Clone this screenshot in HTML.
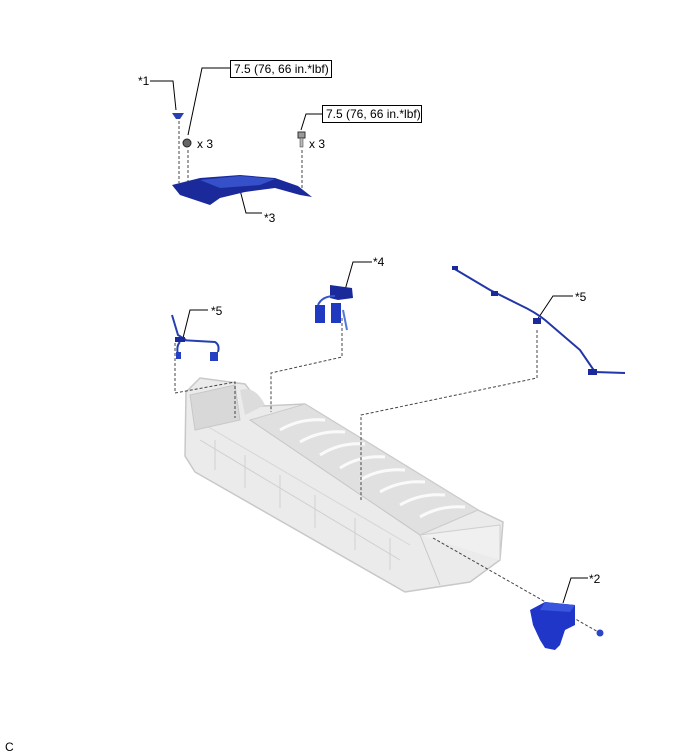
<!DOCTYPE html>
<html><head><meta charset="utf-8"><style>
html,body{margin:0;padding:0;background:#fff;width:688px;height:755px;overflow:hidden}
svg{display:block}
text{font-family:"Liberation Sans",sans-serif;font-size:12px;fill:#000}
</style></head><body>
<svg width="688" height="755" viewBox="0 0 688 755" xmlns="http://www.w3.org/2000/svg">
<!-- battery -->
<g>
<path d="M186,392 L200,378 L245,384 L262,406 L305,404 L478,510 L503,522 L500,560 L470,582 L405,592 L195,472 L185,456 Z" fill="#ebebeb" stroke="#c8c8c8" stroke-width="1.5"/>
<path d="M250,420 L305,404 L478,510 L420,535 Z" fill="#e0e0e0" stroke="#cbcbcb"/>
<g stroke="#fafafa" stroke-width="3" fill="none">
<path d="M280,430 Q300,418 325,420"/><path d="M300,442 Q320,430 345,432"/><path d="M320,455 Q340,442 365,444"/>
<path d="M340,468 Q360,455 385,457"/><path d="M360,480 Q380,468 405,470"/><path d="M380,492 Q400,480 425,482"/>
<path d="M400,505 Q420,493 445,495"/><path d="M420,517 Q440,505 465,507"/>
</g>
<path d="M250,420 L420,535 L440,585" stroke="#c8c8c8" fill="none"/>
<path d="M200,440 L400,560" stroke="#d0d0d0" fill="none"/>
<path d="M205,425 L410,545" stroke="#d6d6d6" fill="none"/>
<g stroke="#d0d0d0" fill="none">
<path d="M215,440 L215,470"/><path d="M245,455 L245,488"/><path d="M280,475 L280,508"/><path d="M315,495 L315,528"/><path d="M355,518 L355,550"/><path d="M390,538 L390,570"/>
</g>
<path d="M420,535 L500,525 L500,560" fill="#f0f0f0" stroke="#cfcfcf"/>
<path d="M190,395 L235,385 L240,420 L195,430 Z" fill="#d8d8d8" stroke="#c8c8c8"/>
<path d="M240,390 Q255,385 265,405 L245,415 Z" fill="#dcdcdc"/>
</g>
<!-- dashed lines -->
<g stroke="#444" stroke-width="1" stroke-dasharray="3,2" fill="none">
<path d="M179,121 L179,183"/>
<path d="M188,150 L188,183"/>
<path d="M302,150 L302,195"/>
<path d="M175,343 L175,393 L235,382 L235,418"/>
<path d="M342,318 L342,357 L271,373 L271,412"/>
<path d="M537,330 L537,378 L361,415 L361,500"/>
<path d="M433,538 L600,633"/>
</g>
<!-- leaders -->
<g stroke="#000" stroke-width="1" fill="none">
<path d="M150,81 L173,81 L176,110"/>
<path d="M188,135 L202,68 L230,68"/>
<path d="M301,130 L306,114 L322,114"/>
<path d="M240,190 L246,213 L262,213"/>
<path d="M183,338 L190,310 L208,310"/>
<path d="M345,290 L353,262 L372,262"/>
<path d="M537,320 L553,296 L573,296"/>
<path d="M563,603 L571,578 L588,578"/>
</g>
<!-- boxes -->
<rect x="230.5" y="60.5" width="101" height="17" fill="#fff" stroke="#000"/>
<text x="234" y="73" font-size="11">7.5 (76, 66 in.*lbf)</text>
<rect x="322.5" y="105.5" width="99" height="17" fill="#fff" stroke="#000"/>
<text x="326" y="118" font-size="11">7.5 (76, 66 in.*lbf)</text>
<!-- parts -->
<path d="M172,113 L184,113 L180,119 L176,119 Z" fill="#2a3fb0"/>
<circle cx="187" cy="143" r="4" fill="#666" stroke="#222"/>
<rect x="298" y="132" width="7" height="6" fill="#999" stroke="#333"/>
<rect x="300" y="138" width="3" height="9" fill="#bbb" stroke="#333" stroke-width=".5"/>
<text x="197" y="148">x 3</text>
<text x="309" y="148">x 3</text>
<path d="M172,185 L200,178 L240,175 L275,178 L298,186 L312,197 L300,195 L275,188 L245,192 L220,198 L210,205 L195,200 L180,195 Z" fill="#1a2a9a"/>
<path d="M200,180 L240,176 L275,179 L260,185 L220,188 Z" fill="#3550c8"/>
<!-- left *5 harness -->
<path d="M172,315 L178,335 L186,340 M180,340 L215,342 Q220,345 218,352 M180,342 Q176,346 178,355" stroke="#2540b0" stroke-width="2" fill="none"/>
<rect x="175" y="337" width="10" height="5" fill="#1a2a9a"/>
<rect x="176" y="352" width="5" height="7" fill="#2540c0"/>
<rect x="210" y="352" width="8" height="9" fill="#2540c0"/>
<!-- *4 -->
<path d="M330,285 L352,288 L353,298 L338,300 L330,298 Z" fill="#1a2a9a"/>
<path d="M318,305 Q322,296 335,296" stroke="#3355cc" stroke-width="2" fill="none"/>
<rect x="315" y="305" width="10" height="18" fill="#1f3ac0"/>
<rect x="331" y="303" width="10" height="20" fill="#1f3ac0"/>
<path d="M343,310 L347,330" stroke="#5577dd" stroke-width="2"/>
<!-- right *5 harness -->
<path d="M453,268 L490,290 L520,305 Q535,312 545,320 L580,350 L595,372 L625,373" stroke="#2236a8" stroke-width="2" fill="none"/>
<rect x="452" y="266" width="6" height="4" fill="#1a2a9a"/>
<rect x="491" y="291" width="7" height="5" fill="#1a2a9a"/>
<rect x="533" y="318" width="8" height="6" fill="#1a2a9a"/>
<rect x="588" y="369" width="9" height="6" fill="#1a2a9a"/>
<!-- *2 -->
<path d="M530,610 L545,602 L575,605 L575,625 L565,630 L560,645 L555,650 L545,648 L540,640 L533,625 Z" fill="#1f36c8"/>
<path d="M545,602 L575,605 L570,612 L540,610 Z" fill="#3a55dd"/>
<circle cx="600" cy="633" r="3.5" fill="#2a45c8"/>
<!-- labels -->
<text x="138" y="85">*1</text>
<text x="264" y="222">*3</text>
<text x="211" y="315">*5</text>
<text x="373" y="266">*4</text>
<text x="575" y="301">*5</text>
<text x="589" y="583">*2</text>
<text x="5" y="751" font-size="10">C</text>
</svg>
</body></html>
